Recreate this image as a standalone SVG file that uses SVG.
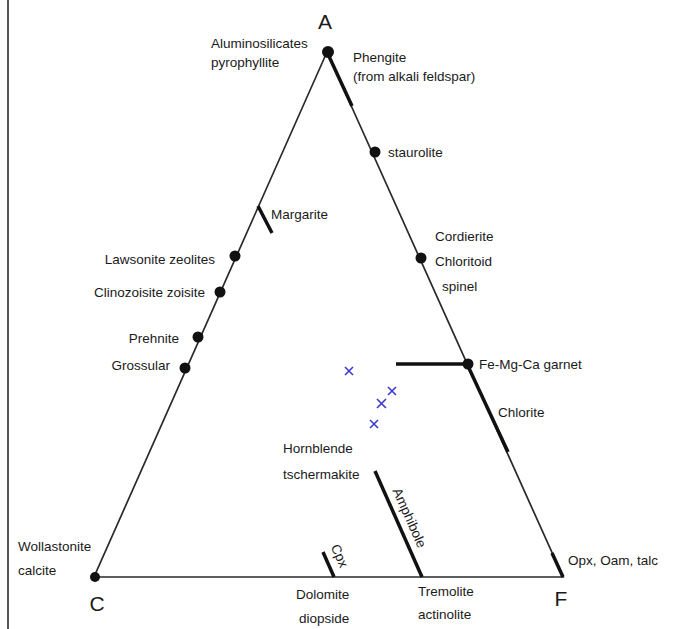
<svg xmlns="http://www.w3.org/2000/svg" width="677" height="629" viewBox="0 0 677 629">
<style>
text{font-family:"Liberation Sans",Arial,sans-serif;font-size:13.5px;fill:#1a1a1a}
.big{font-size:21px}
.edge{stroke:#2a2a2a;stroke-width:1.7;fill:none}
.thick{stroke:#111;stroke-width:3.5;fill:none}
.dot{fill:#111}
.x{stroke:#3a3ad0;stroke-width:1.6}
</style>
<rect width="677" height="629" fill="#fff"/>
<line x1="8" y1="0" x2="8" y2="629" stroke="#555" stroke-width="2"/>
<g id="connectors">
<path class="edge" d="M327,52 L94,577 L563,577 Z"/>
<line class="thick" x1="327" y1="52" x2="352" y2="106"/>
<line class="thick" x1="467" y1="364" x2="508" y2="452"/>
<line class="thick" x1="396" y1="364" x2="467" y2="364"/>
<line class="thick" x1="552" y1="553" x2="563" y2="577"/>
<line class="thick" x1="375" y1="471" x2="422" y2="577"/>
<line class="thick" x1="323" y1="552" x2="334" y2="577"/>
<line class="thick" x1="258" y1="206" x2="272" y2="233"/>
</g>
<g id="A"><circle class="dot" cx="328" cy="52" r="6"/><text class="big" x="325" y="29" text-anchor="middle">A</text></g>
<g id="C"><circle class="dot" cx="95" cy="577" r="5"/><text class="big" x="97" y="611" text-anchor="middle">C</text></g>
<g id="F"><text class="big" x="561" y="606" text-anchor="middle">F</text></g>
<g id="aluminosilicates"><text x="211" y="48">Aluminosilicates</text><text x="211" y="67">pyrophyllite</text></g>
<g id="phengite"><text x="353" y="62">Phengite</text><text x="353" y="81">(from alkali  feldspar)</text></g>
<g id="staurolite"><circle class="dot" cx="375" cy="152" r="5.5"/><text x="388" y="157">staurolite</text></g>
<g id="cordierite"><circle class="dot" cx="421" cy="258" r="5.5"/><text x="435" y="241">Cordierite</text><text x="435" y="266">Chloritoid</text><text x="442" y="291">spinel</text></g>
<g id="margarite"><text x="271" y="219">Margarite</text></g>
<g id="lawsonite"><circle class="dot" cx="235" cy="256" r="5.5"/><text x="215" y="264" text-anchor="end">Lawsonite zeolites</text></g>
<g id="clinozoisite"><circle class="dot" cx="220" cy="292" r="5.5"/><text x="205" y="297" text-anchor="end">Clinozoisite zoisite</text></g>
<g id="prehnite"><circle class="dot" cx="198" cy="337" r="5.5"/><text x="179" y="343" text-anchor="end">Prehnite</text></g>
<g id="grossular"><circle class="dot" cx="185" cy="368" r="5.5"/><text x="170" y="370" text-anchor="end">Grossular</text></g>
<g id="garnet"><circle class="dot" cx="468" cy="364" r="5.5"/><text x="479" y="369">Fe-Mg-Ca garnet</text></g>
<g id="chlorite"><text x="498" y="417">Chlorite</text></g>
<g id="hornblende"><text x="283" y="453">Hornblende</text><text x="283" y="479">tschermakite</text></g>
<g id="amphibole"><text transform="translate(409,518) rotate(66)" x="0" y="4" text-anchor="middle">Amphibole</text></g>
<g id="cpx"><text transform="translate(339,556) rotate(66)" x="0" y="4" text-anchor="middle">Cpx</text></g>
<g id="wollastonite"><text x="18" y="551">Wollastonite</text><text x="18" y="575">calcite</text></g>
<g id="dolomite"><text x="296" y="599">Dolomite</text><text x="299" y="623">diopside</text></g>
<g id="tremolite"><text x="418" y="596">Tremolite</text><text x="418" y="619">actinolite</text></g>
<g id="opx"><text x="568" y="565">Opx, Oam,  talc</text></g>
<g id="samples">
<path class="x" d="M345,367 l8,8 M353,367 l-8,8"/>
<path class="x" d="M388,387 l8,8 M396,387 l-8,8"/>
<path class="x" d="M377,399 l9,9 M386,399 l-9,9"/>
<path class="x" d="M370,420 l8,8 M378,420 l-8,8"/>
</g>
</svg>
